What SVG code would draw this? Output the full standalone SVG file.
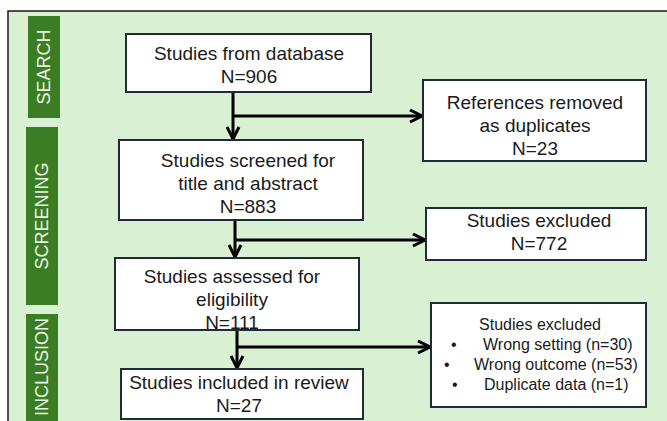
<svg xmlns="http://www.w3.org/2000/svg" width="667" height="421" viewBox="0 0 667 421">
<defs>
<style>
.box{fill:#fff;stroke:#1e2b38;stroke-width:2}
.t{font-family:"Liberation Sans",Arial,sans-serif;font-size:19px;fill:#1a1a1a;text-anchor:middle}
.s{font-family:"Liberation Sans",Arial,sans-serif;font-size:16px;fill:#1a1a1a}
.side{fill:#3a7d24}
.sl{font-family:"Liberation Sans",Arial,sans-serif;font-size:18px;fill:#e8f5e0;text-anchor:middle}
.c{stroke:#000;stroke-width:3;fill:none}
</style>
<marker id="arr" viewBox="0 0 10 10" refX="9" refY="5" markerWidth="5" markerHeight="5" orient="auto" markerUnits="strokeWidth">
<path d="M1,1 L9,5 L1,9" fill="none" stroke="#000" stroke-width="2"/>
</marker>
</defs>
<rect x="0" y="0" width="667" height="421" fill="#fff"/>
<rect x="8" y="11" width="670" height="420" fill="#d9f0d3" stroke="#1a1a1a" stroke-width="1.5"/>
<g id="stage-search"><rect class="side" x="28" y="16" width="32" height="102"/><text class="sl" transform="translate(50,67) rotate(-90)">SEARCH</text></g>
<g id="stage-screening"><rect class="side" x="26" y="127" width="32" height="178"/><text class="sl" transform="translate(48,216) rotate(-90)">SCREENING</text></g>
<g id="stage-inclusion"><rect class="side" x="26" y="314" width="32" height="110"/><text class="sl" transform="translate(48,367) rotate(-90)">INCLUSION</text></g>
<g id="connectors">
<path class="c" d="M233,92 V139" marker-end="url(#arr)"/>
<path class="c" d="M233,116 H422" marker-end="url(#arr)"/>
<path class="c" d="M235,220 V257" marker-end="url(#arr)"/>
<path class="c" d="M235,240 H425" marker-end="url(#arr)"/>
<path class="c" d="M237,330 V368" marker-end="url(#arr)"/>
<path class="c" d="M237,347 H430" marker-end="url(#arr)"/>
</g>
<g id="n1"><rect class="box" x="126" y="34" width="245" height="58"/><text class="t" x="249" y="60">Studies from database</text><text class="t" x="249" y="83">N=906</text></g>
<g id="n2"><rect class="box" x="119" y="140" width="244" height="80"/><text class="t" x="248" y="167">Studies screened for</text><text class="t" x="248" y="190">title and abstract</text><text class="t" x="248" y="213">N=883</text></g>
<g id="n3"><rect class="box" x="115" y="258" width="244" height="72"/><text class="t" x="232" y="283">Studies assessed for</text><text class="t" x="232" y="306">eligibility</text><text class="t" x="232" y="329">N=111</text></g>
<g id="n4"><rect class="box" x="121" y="369" width="242" height="50"/><text class="t" x="239" y="389">Studies included in review</text><text class="t" x="239" y="412">N=27</text></g>
<g id="r1"><rect class="box" x="423" y="80" width="223" height="81"/><text class="t" x="535" y="109">References removed</text><text class="t" x="535" y="132">as duplicates</text><text class="t" x="535" y="155">N=23</text></g>
<g id="r2"><rect class="box" x="426" y="208" width="220" height="52"/><text class="t" x="539" y="227">Studies excluded</text><text class="t" x="539" y="250">N=772</text></g>
<g id="r3"><rect class="box" x="431" y="303" width="215" height="104"/>
<text class="s" x="540" y="330" text-anchor="middle">Studies excluded</text>
<text class="s" x="451" y="350">•</text><text class="s" x="483" y="350">Wrong setting (n=30)</text>
<text class="s" x="444" y="370">•</text><text class="s" x="474" y="370">Wrong outcome (n=53)</text>
<text class="s" x="452" y="390">•</text><text class="s" x="484" y="390">Duplicate data (n=1)</text>
</g>
</svg>
